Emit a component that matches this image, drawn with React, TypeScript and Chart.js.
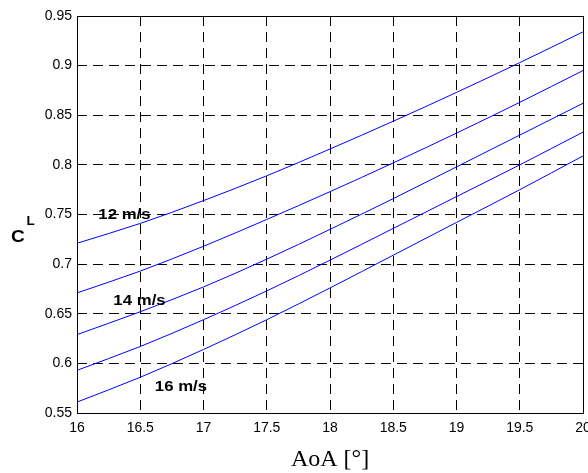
import React, { useEffect, useRef } from "react";
import { Chart, registerables } from "chart.js";

Chart.register(...registerables);

const aoa = [16, 16.5, 17, 17.5, 18, 18.5, 19, 19.5, 20];
const cl12 = [0.721, 0.741, 0.764, 0.789, 0.816, 0.844, 0.873, 0.903, 0.934];
const cl13 = [0.671, 0.693, 0.718, 0.745, 0.773, 0.802, 0.832, 0.863, 0.895];
const cl14 = [0.629, 0.652, 0.677, 0.705, 0.735, 0.766, 0.798, 0.83, 0.862];
const cl15 = [0.593, 0.617, 0.644, 0.673, 0.704, 0.736, 0.768, 0.8, 0.833];
const cl16 = [0.561, 0.586, 0.614, 0.644, 0.676, 0.709, 0.742, 0.775, 0.809];
const seriesList = [cl12, cl13, cl14, cl15, cl16];

const noteText = ["12 m/s", "14 m/s", "16 m/s"];
const noteX = [16.375, 16.494, 16.822];
const noteY = [0.7495, 0.6633, 0.5767];

const fmt = (v: number) => String(parseFloat(Number(v).toFixed(3)));

export default function App() {
  const ref = useRef<HTMLCanvasElement | null>(null);
  useEffect(() => {
    if (!ref.current) return;
    const decor = {
      id: "decor",
      afterDatasetsDraw(chart: any) {
        const { ctx, chartArea, scales } = chart;
        ctx.save();
        ctx.strokeStyle = "#000";
        ctx.lineWidth = 1;
        ctx.setLineDash([]);
        ctx.strokeRect(
          Math.round(chartArea.left) + 0.5,
          Math.round(chartArea.top) + 0.5,
          Math.round(chartArea.right - chartArea.left),
          Math.round(chartArea.bottom - chartArea.top)
        );
        ctx.fillStyle = "#000";
        ctx.textAlign = "center";
        ctx.textBaseline = "middle";
        const sx = 1.12;
        noteText.forEach((t, i) => {
          const px = scales.x.getPixelForValue(noteX[i]);
          const py = scales.y.getPixelForValue(noteY[i]);
          ctx.save();
          ctx.translate(px, py);
          ctx.scale(sx, 1);
          ctx.font = "bold 15px Arial, 'Liberation Sans', sans-serif";
          ctx.fillText(t, 0, 0);
          ctx.restore();
        });
        // y title
        ctx.save();
        ctx.translate(18, 237);
        ctx.scale(sx, 1);
        ctx.font = "bold 17px Arial, 'Liberation Sans', sans-serif";
        ctx.fillText("C", 0, 0);
        ctx.restore();
        ctx.save();
        ctx.translate(30.5, 222);
        ctx.scale(sx, 1);
        ctx.font = "bold 12px Arial, 'Liberation Sans', sans-serif";
        ctx.fillText("L", 0, 0);
        ctx.restore();
        // x title
        ctx.font = "24px 'Times New Roman', 'Liberation Serif', serif";
        ctx.fillText("AoA [°]", (chartArea.left + chartArea.right) / 2, 460);
        ctx.restore();
      },
    };
    const chart = new Chart(ref.current, {
      type: "line",
      data: {
        datasets: seriesList.map((s) => ({
          data: aoa.map((x, i) => ({ x, y: s[i] })),
          borderColor: "#0000ff",
          borderWidth: 1,
          pointRadius: 0,
          fill: false,
          cubicInterpolationMode: "monotone" as const,
        })),
      },
      options: {
        responsive: false,
        animation: false,
        layout: { padding: { left: 0, right: 5, top: 16, bottom: 0 } },
        plugins: { legend: { display: false }, tooltip: { enabled: false } },
        scales: {
          x: {
            type: "linear",
            min: 16,
            max: 20,
            afterFit(scale: any) {
              scale.height = 60;
              scale.paddingLeft = 0;
              scale.paddingRight = 0;
            },
            ticks: {
              stepSize: 0.5,
              padding: 7,
              color: "#000",
              font: { family: "Arial, 'Liberation Sans', sans-serif", size: 14 },
              callback: (v: any) => fmt(v),
              maxRotation: 0,
              autoSkip: false,
            },
            grid: { color: "#000", lineWidth: 1, drawTicks: false },
            border: { display: false, dash: [10, 6] },
          },
          y: {
            type: "linear",
            min: 0.55,
            max: 0.95,
            afterFit(scale: any) {
              scale.width = 77;
              scale.paddingTop = 0;
              scale.paddingBottom = 0;
            },
            ticks: {
              stepSize: 0.05,
              padding: 5,
              color: "#000",
              font: { family: "Arial, 'Liberation Sans', sans-serif", size: 14 },
              callback: (v: any) => fmt(v),
              autoSkip: false,
            },
            grid: { color: "#000", lineWidth: 1, drawTicks: false },
            border: { display: false, dash: [10, 6] },
          },
        },
      },
      plugins: [decor],
    });
    return () => chart.destroy();
  }, []);
  return (
    <div style={{ position: "fixed", left: 0, top: 0, width: 588, height: 473, background: "#fff" }}>
      <canvas ref={ref} width={588} height={473} style={{ display: "block" }} />
    </div>
  );
}
